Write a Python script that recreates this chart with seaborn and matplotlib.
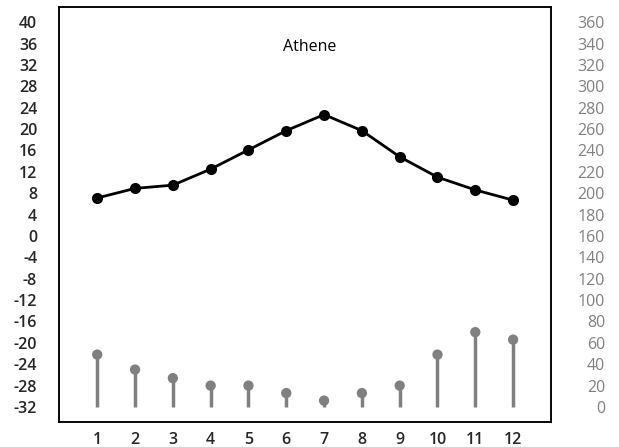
import numpy as np
import pandas as pd
import matplotlib
matplotlib.use("Agg")
import matplotlib.pyplot as plt
import seaborn as sns

sns.set_theme(style="white")
plt.rcParams['font.family'] = ['Open Sans', 'DejaVu Sans']
plt.rcParams['axes.unicode_minus'] = False

# Climate data for Athens
months = [1, 2, 3, 4, 5, 6, 7, 8, 9, 10, 11, 12]
temperature = [7.1, 8.9, 9.5, 12.5, 16.1, 19.7, 22.7, 19.7, 14.8, 11.0, 8.6, 6.7]
precipitation = [49, 35, 27, 20, 20, 13, 6, 13, 20, 49, 70, 63]
temp_ticks = list(range(-32, 41, 4))
precip_ticks = list(range(0, 361, 20))
city = "Athene"

df = pd.DataFrame({'Month': months, 'Temp': temperature, 'Precip': precipitation})

fig = plt.figure(figsize=(6.19, 4.47), dpi=100)
ax = fig.add_axes([0.096, 0.056, 0.794, 0.928])
ax2 = ax.twinx()

# precipitation lollipops on the right axis
grey = '#808080'
ax2.vlines(df['Month'], 0, df['Precip'], color=grey, linewidth=2.5, zorder=2)
sns.scatterplot(data=df, x='Month', y='Precip', ax=ax2, color=grey, s=55,
                edgecolor='none', zorder=3, legend=False)

# temperature line on the left axis
sns.lineplot(data=df, x='Month', y='Temp', ax=ax, color='black', linewidth=2,
             marker='o', markersize=8, markeredgewidth=0, zorder=4)
ax.set_zorder(ax2.get_zorder() + 1)
ax.patch.set_visible(False)

ax.set_xlim(0, 13)
ax.set_ylim(-34.8, 42.8)
ax2.set_ylim(-14, 374)

ax.set_xticks(months)
ax.set_yticks(temp_ticks)
ax2.set_yticks(precip_ticks)
ax.set_xlabel('')
ax.set_ylabel('')
ax2.set_xlabel('')
ax2.set_ylabel('')

ax.tick_params(axis='x', length=0, pad=7, labelsize=11.5)
ax.tick_params(axis='y', length=0, pad=16, labelsize=11.5)
for lab in ax.get_xticklabels() + ax.get_yticklabels():
    lab.set_fontweight('semibold')
ax2.tick_params(axis='y', length=0, pad=39, labelsize=11.5, labelcolor=grey)
for lab in ax2.get_yticklabels():
    lab.set_horizontalalignment('right')

for a in (ax, ax2):
    for sp in a.spines.values():
        sp.set_color('black')
        sp.set_linewidth(1.1)

ax.text(0.51, 0.905, city, transform=ax.transAxes, ha='center', va='center',
        fontsize=11.5, color='black')

fig.savefig('out.png', dpi=100)
